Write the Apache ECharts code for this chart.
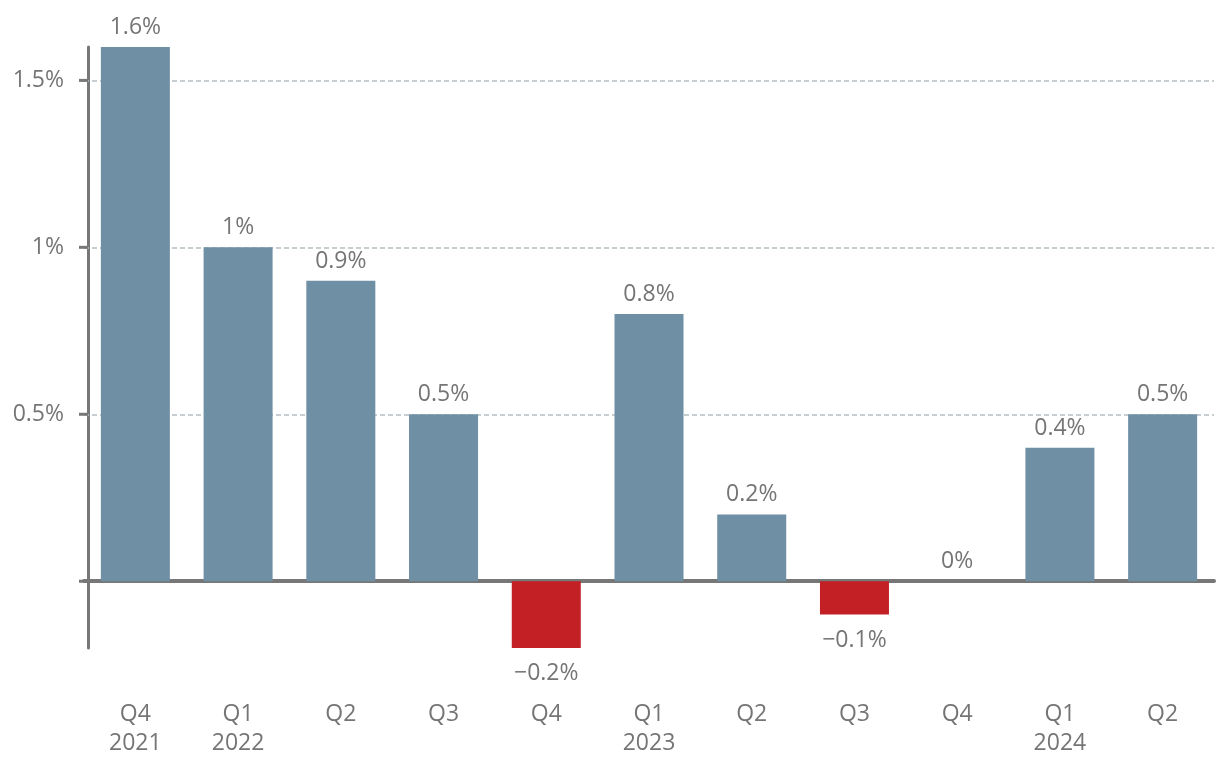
<!DOCTYPE html>
<html><head><meta charset="utf-8">
<script src="https://cdn.jsdelivr.net/npm/echarts@6/dist/echarts.min.js"></script>
<style>html,body{margin:0;padding:0;background:#fff}#c{width:1220px;height:770px}</style>
</head><body><div id="c"></div>
<script>
const categories = ["Q4\n2021","Q1\n2022","Q2","Q3","Q4","Q1\n2023","Q2","Q3","Q4","Q1\n2024","Q2"];
const values = [1.6, 1.0, 0.9, 0.5, -0.2, 0.8, 0.2, -0.1, 0, 0.4, 0.5];
const yTickLabels = [0.5, 1, 1.5];
const yTickMarks = [0, 0.5, 1, 1.5];

const POS = '#6e8fa4', NEG = '#c32026', TXT = '#757575', AX = '#777777', GRID = '#b5bec4';
const FONT = 'Open Sans';
const FS = 23;
function fmt(v){ const s = (Math.round(Math.abs(v)*10)/10).toString() + '%'; return v < 0 ? '\u2212' + s : s; }
function isLabel(v){ return yTickLabels.some(t => Math.abs(t - v) < 1e-6); }

const data = values.map(v => ({
  value: v,
  itemStyle: { color: v < 0 ? NEG : POS },
  label: { position: v < 0 ? 'bottom' : 'top', distance: v < 0 ? 14 : 8 }
}));

const chart = echarts.init(document.getElementById('c'), null, {renderer:'canvas'});
chart.setOption({
  animation: false,
  grid: { left: 84, right: 6, top: 47, bottom: 122, containLabel: false, outerBoundsMode: 'none' },
  xAxis: {
    type: 'category', data: categories,
    axisLine: { onZero: true, lineStyle: { color: AX, width: 4 } },
    axisTick: { show: false },
    axisLabel: { color: TXT, fontFamily: FONT, fontSize: FS, lineHeight: 29, margin: 52 }
  },
  yAxis: {
    type: 'value', min: -0.2, max: 1.6, interval: 0.1, offset: -4,
    axisLine: { show: true, lineStyle: { color: AX, width: 3 } },
    axisTick: { show: false },
    axisLabel: {
      color: TXT, fontFamily: FONT, fontSize: FS, margin: 24,
      formatter: v => isLabel(v) ? (Math.round(v*10)/10 + '%') : ''
    },
    splitLine: { show: false }
  },
  series: [{
    type: 'bar', data: data, barWidth: 69, z: 3,
    label: { show: true, color: TXT, fontFamily: FONT, fontSize: FS, formatter: p => fmt(p.value) },
    markLine: {
      silent: true, symbol: 'none', label: { show: false }, z: 1,
      lineStyle: { color: GRID, type: [5, 3], width: 1.5 },
      data: yTickLabels.map(v => ({ yAxis: v }))
    }
  }, {
    type: 'custom', z: 4, silent: true,
    data: yTickMarks,
    renderItem: function (params, api) {
      const y = api.coord([0, api.value(0)])[1];
      const x = params.coordSys.x + 4;
      return { type: 'line', shape: { x1: x - 9, y1: y, x2: x, y2: y }, style: { stroke: AX, lineWidth: 3 } };
    },
    encode: { y: 0 }
  }]
});
</script></body></html>
